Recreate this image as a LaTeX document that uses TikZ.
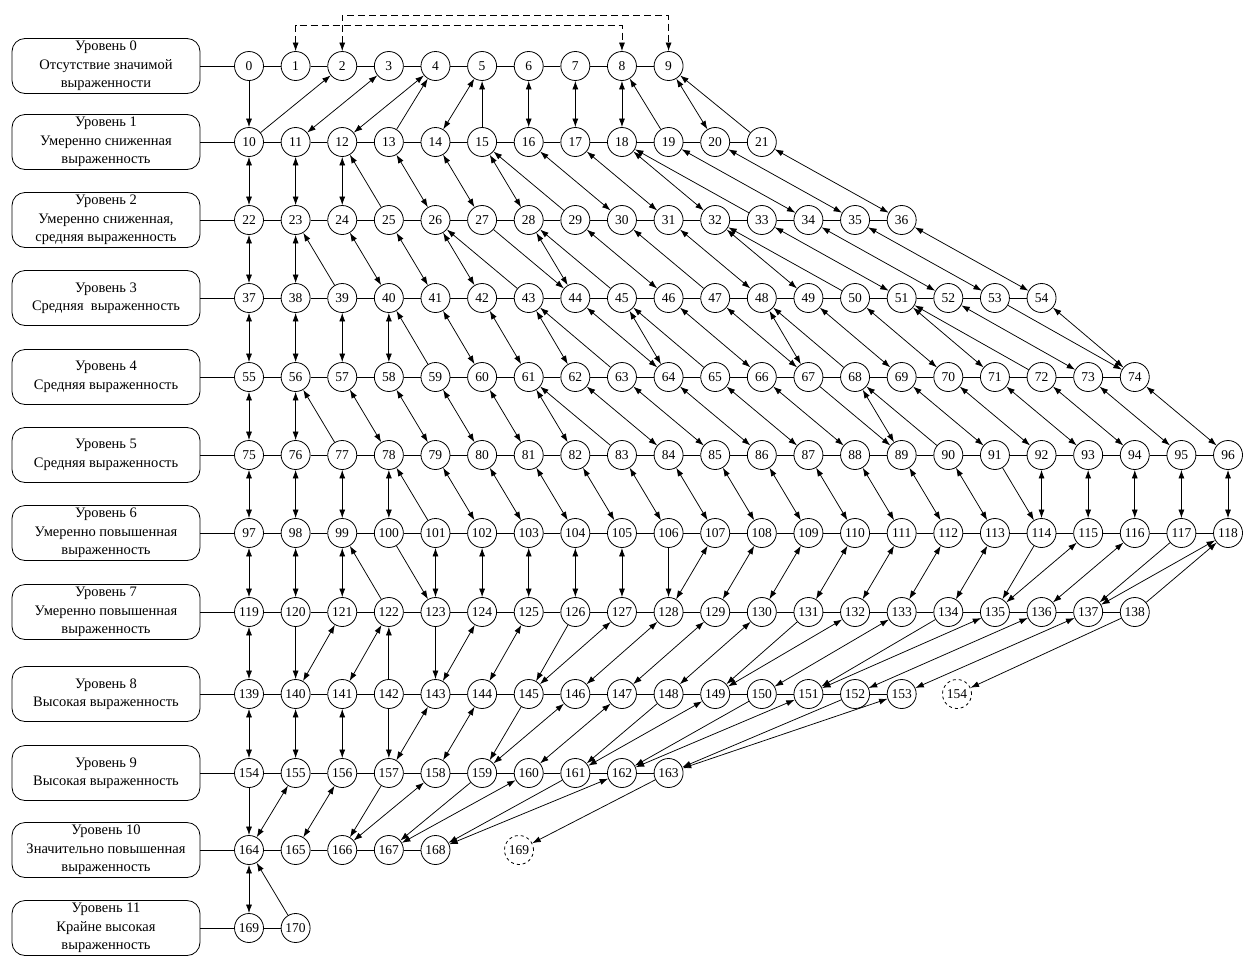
\documentclass[tikz,border=0pt]{standalone}
\usepackage{fontspec}
\setmainfont{Liberation Serif}
\usetikzlibrary{arrows.meta}
\newcommand\Edd[2]{\draw[cn,<->](n#1)--(n#2);}
\newcommand\Esg[2]{\draw[cn,->](n#1)--(n#2);}
\begin{document}
\begin{tikzpicture}[x=1pt,y=-1pt,
  nd/.style={circle,draw,line width=0.8pt,fill=white,minimum size=29pt,inner sep=0pt,font=\fontsize{13.5}{14}\selectfont},
  dnd/.style={nd,dashed},
  lvl/.style={draw,line width=0.8pt,rounded corners=13pt,minimum width=188pt,minimum height=55pt,align=center,font=\fontsize{14.5}{18.5}\selectfont,inner sep=2pt},
  hl/.style={line width=0.7pt},
  cn/.style={line width=0.75pt},
  >={Latex[length=8.5pt,width=6pt]}]
\useasboundingbox (0,0) rectangle (1243,956);
% level boxes
\node[lvl] (L0) at (106,66) {Уровень 0\\Отсутствие значимой\\выраженности};
\node[lvl] (L1) at (106,142) {Уровень 1\\Умеренно сниженная\\выраженность};
\node[lvl] (L2) at (106,220) {Уровень 2\\Умеренно сниженная,\\средняя выраженность};
\node[lvl] (L3) at (106,298) {Уровень 3\\Средняя\ \ выраженность};
\node[lvl] (L4) at (106,377) {Уровень 4\\Средняя выраженность};
\node[lvl] (L5) at (106,455) {Уровень 5\\Средняя выраженность};
\node[lvl] (L6) at (106,533) {Уровень 6\\Умеренно повышенная\\выраженность};
\node[lvl] (L7) at (106,612) {Уровень 7\\Умеренно повышенная\\выраженность};
\node[lvl] (L8) at (106,694) {Уровень 8\\Высокая выраженность};
\node[lvl] (L9) at (106,773) {Уровень 9\\Высокая выраженность};
\node[lvl] (L10) at (106,850) {Уровень 10\\Значительно повышенная\\выраженность};
\node[lvl] (L11) at (106,928) {Уровень 11\\Крайне высокая\\выраженность};
% state nodes
\foreach \r/\s/\k/\y in {0/0/10/66,1/10/12/142,2/22/15/220,3/37/18/298,4/55/20/377,5/75/22/455,6/97/22/533,7/119/20/612,8/139/15/694,9/154/10/773,10/164/5/850,11/169/2/928}{
  \foreach \c in {1,...,\k}{
    \pgfmathtruncatemacro\id{\s+\c-1}
    \node[nd] (n\id) at ({249+46.62*(\c-1)},\y) {\id};
  }
  \pgfmathtruncatemacro\e{\s+\k-2}
  \draw[hl] (L\r.east) -- (n\s);
  \foreach \i in {\s,...,\e}{
    \pgfmathtruncatemacro\j{\i+1}
    \draw[hl] (n\i) -- (n\j);
  }
}
\node[dnd] (n154d) at (957,694) {154};
\node[dnd] (n169d) at (519,850) {169};
% dashed links on top
\coordinate (dA) at (0,25);
\coordinate (dB) at (0,15);
\draw[cn,dashed,dash pattern=on 7pt off 4pt,<->] (n1.north) -- (n1.north |- dA) -| (n8.north);
\draw[cn,dashed,dash pattern=on 7pt off 4pt,<->] (n2.north) -- (n2.north |- dB) -| (n9.north);
% row 0-1
\Esg{0}{10} \Esg{10}{2} \Edd{3}{11} \Edd{4}{12} \Esg{13}{4} \Edd{5}{14} \Esg{15}{5}
\Edd{6}{16} \Edd{7}{17} \Edd{8}{18} \Esg{19}{8} \Edd{9}{20} \Esg{21}{9}
% row 1-2
\Edd{10}{22} \Edd{11}{23} \Edd{12}{24} \Esg{25}{12} \Edd{13}{26} \Edd{14}{27} \Edd{15}{28}
\Esg{29}{15} \Edd{16}{30} \Edd{17}{31} \Edd{18}{32} \Esg{33}{18} \Edd{19}{34} \Edd{20}{35} \Edd{21}{36}
% row 2-3
\Edd{22}{37} \Edd{23}{38} \Esg{39}{23} \Edd{24}{40} \Edd{25}{41} \Edd{26}{42} \Esg{43}{26}
\Esg{27}{44} \Edd{28}{44} \Esg{45}{28} \Edd{29}{46} \Esg{47}{30} \Edd{31}{48} \Edd{32}{49} \Esg{50}{32}
\Edd{33}{51} \Edd{34}{52} \Edd{35}{53} \Edd{36}{54}
% row 3-4
\Edd{37}{55} \Edd{38}{56} \Edd{39}{57} \Edd{40}{58} \Esg{59}{40} \Edd{41}{60} \Edd{42}{61}
\Edd{43}{62} \Esg{63}{43} \Edd{44}{64} \Edd{45}{64} \Esg{65}{45} \Edd{46}{66} \Edd{47}{67}
\Edd{48}{67} \Esg{68}{48} \Edd{49}{69} \Edd{50}{70} \Edd{51}{71}
\Esg{72}{51} \Edd{52}{73} \Esg{53}{74} \Edd{54}{74}
% row 4-5
\Edd{55}{75} \Edd{56}{76} \Esg{77}{56} \Edd{57}{78} \Edd{58}{79} \Edd{59}{80} \Edd{60}{81}
\Edd{61}{82} \Esg{83}{61} \Edd{62}{84} \Edd{63}{85} \Edd{64}{86} \Edd{65}{87} \Edd{66}{88}
\Esg{67}{89} \Edd{68}{89} \Esg{90}{68} \Edd{69}{91} \Edd{70}{92} \Edd{71}{93} \Edd{72}{94}
\Edd{73}{95} \Edd{74}{96}
% row 5-6
\Edd{75}{97} \Edd{76}{98} \Edd{77}{99} \Edd{78}{100} \Esg{101}{78} \Edd{79}{102} \Edd{80}{103}
\Edd{81}{104} \Edd{82}{105} \Edd{83}{106} \Edd{84}{107} \Edd{85}{108} \Edd{86}{109}
\Edd{87}{110} \Edd{88}{111} \Edd{89}{112} \Edd{90}{113} \Esg{91}{114} \Edd{92}{114}
\Edd{93}{115} \Edd{94}{116} \Edd{95}{117} \Edd{96}{118}
% row 6-7
\Edd{97}{119} \Edd{98}{120} \Edd{99}{121} \Esg{122}{99} \Esg{100}{123} \Edd{101}{123}
\Edd{102}{124} \Edd{103}{125} \Edd{104}{126} \Edd{105}{127} \Esg{106}{128} \Edd{107}{128}
\Edd{108}{129} \Edd{109}{130} \Edd{110}{131} \Edd{111}{132} \Edd{112}{133} \Edd{113}{134}
\Esg{114}{135} \Edd{115}{135} \Edd{116}{136} \Esg{117}{137} \Edd{118}{137} \Esg{138}{118}
% row 7-8
\Edd{119}{139} \Esg{120}{140} \Edd{121}{140} \Edd{122}{141} \Esg{142}{122} \Esg{123}{143}
\Edd{124}{143} \Edd{125}{144} \Esg{126}{145} \Edd{127}{145} \Edd{128}{146} \Edd{129}{147}
\Edd{130}{148} \Esg{131}{149} \Edd{132}{149} \Edd{133}{150} \Esg{134}{151} \Edd{135}{151}
\Edd{136}{152} \Edd{137}{153} \Esg{138}{154d}
% row 8-9
\Edd{139}{154} \Edd{140}{155} \Edd{141}{156} \Esg{142}{157} \Edd{143}{157} \Edd{144}{158}
\Esg{145}{159} \Edd{146}{159} \Edd{147}{160} \Esg{148}{161} \Edd{149}{161} \Esg{150}{162}
\Edd{151}{162} \Esg{152}{163} \Edd{153}{163}
% row 9-10
\Esg{154}{164} \Edd{155}{164} \Edd{156}{165} \Esg{157}{166} \Edd{158}{166} \Esg{159}{167}
\Edd{160}{167} \Esg{161}{168} \Edd{162}{168} \Esg{163}{169d}
% row 10-11
\Edd{164}{169} \Esg{170}{164}
\end{tikzpicture}
\end{document}
